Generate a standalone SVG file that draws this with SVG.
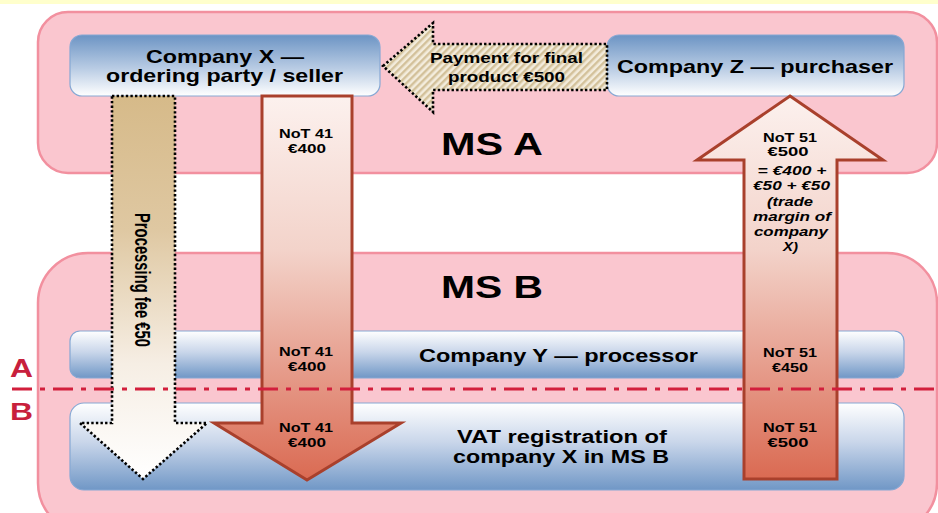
<svg xmlns="http://www.w3.org/2000/svg" width="938" height="513" viewBox="0 0 938 513">
<defs>
<style>
.panel{fill:#fac6cf;stroke:#f2909f;stroke-width:2.5}
.boxTop{fill:url(#gBlueTop);stroke:#86a8d4;stroke-width:1.2}
.boxBot{fill:url(#gBlueBot);stroke:#86a8d4;stroke-width:1.2}
.t{font-family:"Liberation Sans",Arial,sans-serif;font-weight:bold;fill:#000;text-anchor:middle}
.ti{font-family:"Liberation Sans",Arial,sans-serif;font-weight:bold;font-style:italic;fill:#000;text-anchor:middle}
.dot{stroke:#000;stroke-width:2.6;stroke-dasharray:2.4 2.2;fill-rule:nonzero}
.red{stroke:#a9402c;stroke-width:3;stroke-linejoin:miter}
.lab{font-family:"Liberation Sans",Arial,sans-serif;font-weight:bold;fill:#c8203c;text-anchor:middle}
</style>
<linearGradient id="gBlueTop" x1="0" y1="0" x2="0" y2="1">
<stop offset="0" stop-color="#6c94c4"/>
<stop offset="0.55" stop-color="#b9cce4"/>
<stop offset="1" stop-color="#ffffff"/>
</linearGradient>
<linearGradient id="gBlueBot" x1="0" y1="0" x2="0" y2="1">
<stop offset="0" stop-color="#ffffff"/>
<stop offset="0.45" stop-color="#c9d6ea"/>
<stop offset="1" stop-color="#7097c6"/>
</linearGradient>
<linearGradient id="gRedDown" gradientUnits="userSpaceOnUse" x1="0" y1="96" x2="0" y2="480">
<stop offset="0" stop-color="#fcf1ee"/>
<stop offset="0.4" stop-color="#f3d3ca"/>
<stop offset="1" stop-color="#da6a52"/>
</linearGradient>
<linearGradient id="gRedUp" gradientUnits="userSpaceOnUse" x1="0" y1="96" x2="0" y2="479">
<stop offset="0" stop-color="#fcf1ee"/>
<stop offset="0.4" stop-color="#f3d3ca"/>
<stop offset="1" stop-color="#da6a52"/>
</linearGradient>
<linearGradient id="gTan" gradientUnits="userSpaceOnUse" x1="0" y1="96" x2="0" y2="479">
<stop offset="0" stop-color="#d6ba89"/>
<stop offset="0.35" stop-color="#dfc8a2"/>
<stop offset="0.7" stop-color="#f6eee4"/>
<stop offset="1" stop-color="#ffffff"/>
</linearGradient>
<pattern id="hatch" patternUnits="userSpaceOnUse" width="5" height="5" patternTransform="rotate(45)">
<rect width="5" height="5" fill="#f3ecdc"/>
<rect width="2.4" height="5" fill="#d3c19a"/>
</pattern>
</defs>

<rect x="0" y="0" width="938" height="513" fill="#ffffff"/>
<rect x="0" y="0" width="938" height="4" fill="#ffffcc"/>

<g id="panel-ms-a">
<rect class="panel" x="38" y="12" width="899" height="161" rx="30"/>
<text class="t" x="492" y="155" font-size="32" textLength="102" lengthAdjust="spacingAndGlyphs">MS A</text>
</g>
<g id="panel-ms-b">
<rect class="panel" x="38" y="253" width="899" height="280" rx="50"/>
<text class="t" x="492" y="298" font-size="32" textLength="102" lengthAdjust="spacingAndGlyphs">MS B</text>
</g>

<g id="company-x">
<rect class="boxTop" x="70" y="35" width="310" height="61" rx="12"/>
<text class="t" x="225" y="63" font-size="19" textLength="158" lengthAdjust="spacingAndGlyphs">Company X —</text>
<text class="t" x="224.5" y="82" font-size="19" textLength="237" lengthAdjust="spacingAndGlyphs">ordering party / seller</text>
</g>
<g id="company-z">
<rect class="boxTop" x="607" y="35" width="297" height="61" rx="12"/>
<text class="t" x="755" y="73" font-size="18.5" textLength="276" lengthAdjust="spacingAndGlyphs">Company Z — purchaser</text>
</g>
<g id="company-y">
<rect class="boxBot" x="70" y="331" width="834" height="47" rx="10"/>
<text class="t" x="558.5" y="362" font-size="17.5" textLength="279" lengthAdjust="spacingAndGlyphs">Company Y — processor</text>
</g>
<g id="vat-registration">
<rect class="boxBot" x="70" y="403" width="834" height="87" rx="14"/>
<text class="t" x="562" y="443" font-size="17.5" textLength="210" lengthAdjust="spacingAndGlyphs">VAT registration of</text>
<text class="t" x="561" y="463" font-size="17.5" textLength="216" lengthAdjust="spacingAndGlyphs">company X in MS B</text>
</g>

<g id="connectors">
<g id="payment-arrow">
<polygon class="dot" fill="url(#hatch)" points="383,66 433,23 433,44 607,44 607,90 433,90 433,112"/>
<text class="t" x="506.5" y="63" font-size="15.5" textLength="153" lengthAdjust="spacingAndGlyphs">Payment for final</text>
<text class="t" x="506.5" y="82" font-size="15.5" textLength="117" lengthAdjust="spacingAndGlyphs">product €500</text>
</g>
<g id="processing-fee-arrow">
<polygon class="dot" fill="url(#gTan)" points="112,96 175,96 175,423 207,423 143,479 80,423 112,423"/>
<text class="t" transform="translate(135,280) rotate(90)" x="0" y="0" font-size="22" textLength="134" lengthAdjust="spacingAndGlyphs">Processing fee €50</text>
</g>
<g id="not41-arrow">
<polygon class="red" fill="url(#gRedDown)" points="262,96 352,96 352,423 401,423 307,480 214,423 262,423"/>
<text class="t" x="306" y="138" font-size="13" textLength="54" lengthAdjust="spacingAndGlyphs">NoT 41</text>
<text class="t" x="307" y="153" font-size="13" textLength="38" lengthAdjust="spacingAndGlyphs">€400</text>
<text class="t" x="306" y="356" font-size="13" textLength="54" lengthAdjust="spacingAndGlyphs">NoT 41</text>
<text class="t" x="307" y="371" font-size="13" textLength="38" lengthAdjust="spacingAndGlyphs">€400</text>
<text class="t" x="306" y="432" font-size="13" textLength="54" lengthAdjust="spacingAndGlyphs">NoT 41</text>
<text class="t" x="307" y="447" font-size="13" textLength="38" lengthAdjust="spacingAndGlyphs">€400</text>
</g>
<g id="not51-arrow">
<polygon class="red" fill="url(#gRedUp)" points="790,96 883,160 837,160 837,479 744,479 744,160 697,160"/>
<text class="t" x="790" y="142" font-size="13" textLength="54" lengthAdjust="spacingAndGlyphs">NoT 51</text>
<text class="t" x="788" y="156" font-size="13" textLength="41" lengthAdjust="spacingAndGlyphs">€500</text>
<text class="ti" x="792" y="175" font-size="13" textLength="69" lengthAdjust="spacingAndGlyphs">= €400 +</text>
<text class="ti" x="791.5" y="190" font-size="13" textLength="77" lengthAdjust="spacingAndGlyphs">€50 + €50</text>
<text class="ti" x="790" y="206" font-size="13" textLength="46" lengthAdjust="spacingAndGlyphs">(trade</text>
<text class="ti" x="792" y="221" font-size="13" textLength="78" lengthAdjust="spacingAndGlyphs">margin of</text>
<text class="ti" x="791" y="236" font-size="13" textLength="74" lengthAdjust="spacingAndGlyphs">company</text>
<text class="ti" x="790.5" y="251" font-size="13" textLength="15" lengthAdjust="spacingAndGlyphs">X)</text>
<text class="t" x="790" y="357" font-size="13" textLength="54" lengthAdjust="spacingAndGlyphs">NoT 51</text>
<text class="t" x="790" y="372" font-size="13" textLength="36" lengthAdjust="spacingAndGlyphs">€450</text>
<text class="t" x="790" y="432" font-size="13" textLength="54" lengthAdjust="spacingAndGlyphs">NoT 51</text>
<text class="t" x="788" y="447" font-size="13" textLength="41" lengthAdjust="spacingAndGlyphs">€500</text>
</g>
</g>

<g id="border-line">
<line x1="12" y1="389" x2="938" y2="389" stroke="#d21f3c" stroke-width="3" stroke-dasharray="20 8 5 8"/>
<text class="lab" x="21.5" y="377" font-size="26" textLength="23" lengthAdjust="spacingAndGlyphs">A</text>
<text class="lab" x="21.5" y="420" font-size="24" textLength="23" lengthAdjust="spacingAndGlyphs">B</text>
</g>
</svg>
